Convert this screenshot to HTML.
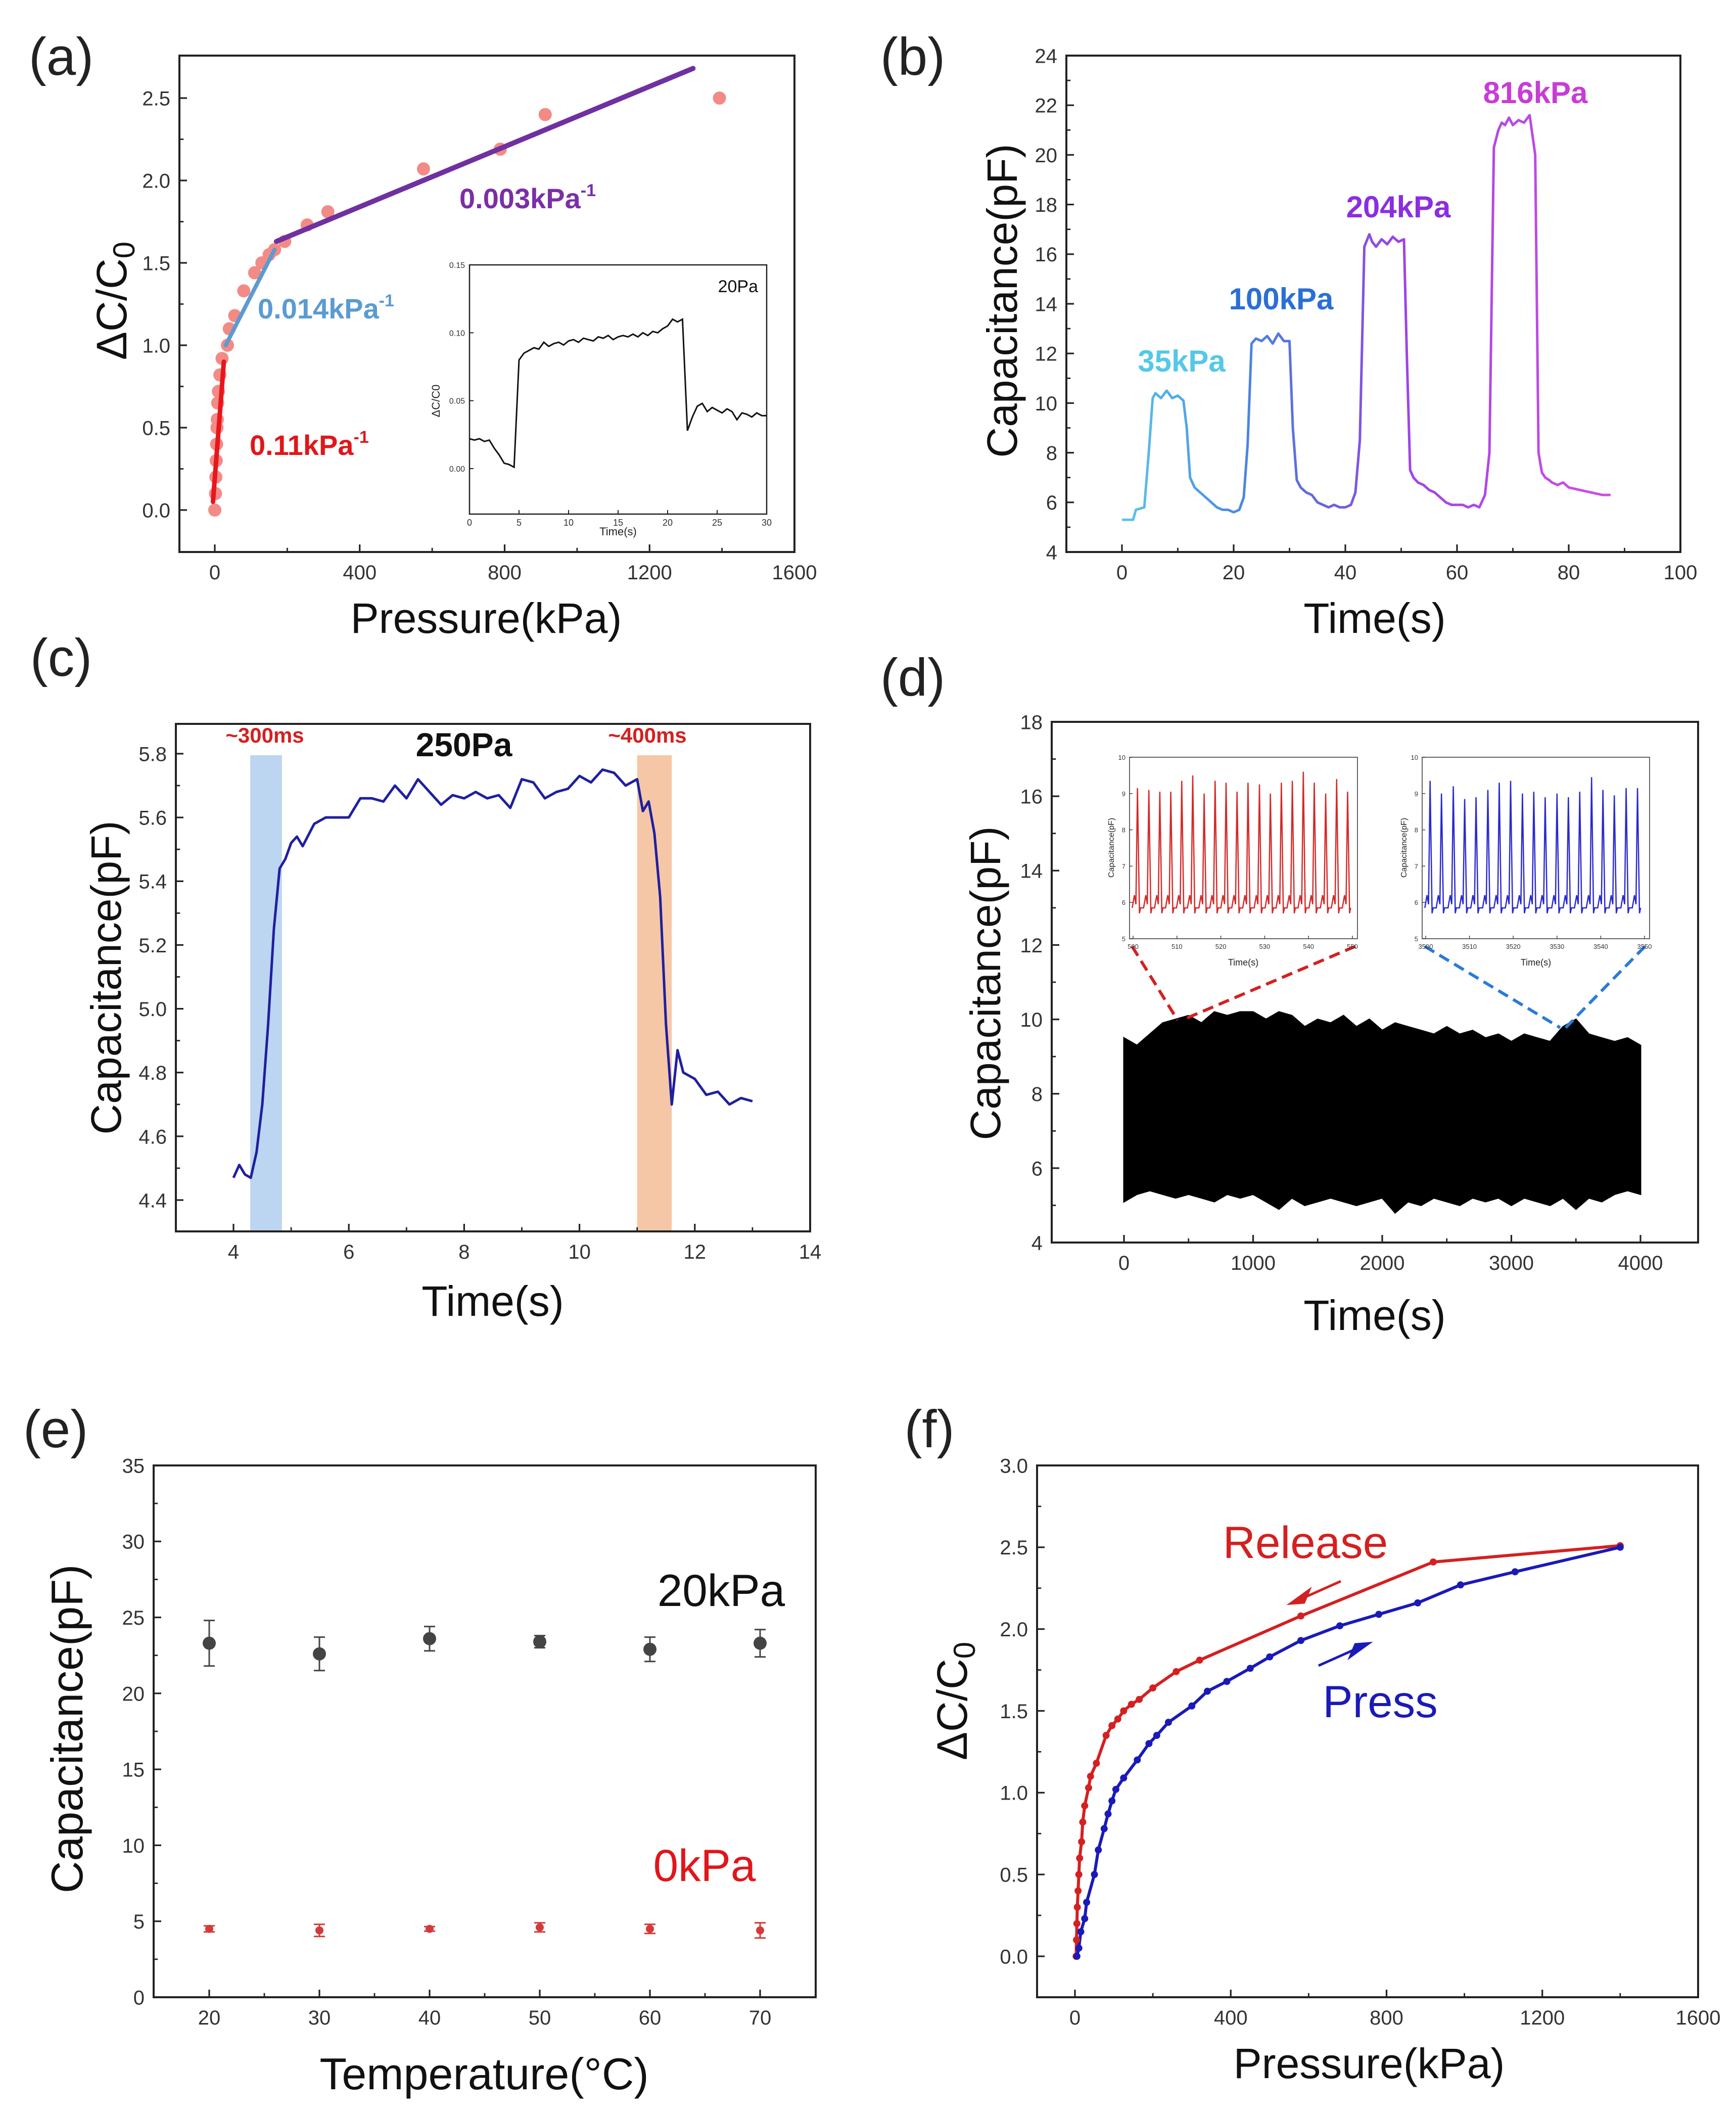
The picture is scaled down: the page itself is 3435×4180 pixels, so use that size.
<!DOCTYPE html>
<html><head><meta charset="utf-8">
<style>
html,body{margin:0;padding:0;background:#fff;}
svg{display:block;font-family:"Liberation Sans",Arial,sans-serif;}
.pl{font-size:105px;fill:#222;text-anchor:middle;}
.at{font-size:84px;fill:#111;text-anchor:middle;}
.an{font-weight:bold;text-anchor:middle;}
.as{font-weight:bold;text-anchor:start;}
</style></head>
<body>
<svg id="fig" xmlns="http://www.w3.org/2000/svg" width="3435" height="4180" viewBox="0 0 3435 4180">
<rect width="3435" height="4180" fill="#fff"/>
<defs>
<linearGradient id="bgrad" gradientUnits="userSpaceOnUse" x1="2220" y1="0" x2="3200" y2="0">
<stop offset="0" stop-color="#5cc6ea"/><stop offset="0.25" stop-color="#4a86e0"/><stop offset="0.42" stop-color="#6a62dc"/><stop offset="0.55" stop-color="#9a44e8"/><stop offset="1" stop-color="#d24ee2"/>
</linearGradient>
</defs>
<g id="layer"></g>
<text class="pl" x="121" y="148">(a)</text>
<text class="pl" x="1806" y="148">(b)</text>
<text class="pl" x="121" y="1337">(c)</text>
<text class="pl" x="1806" y="1376">(d)</text>
<text class="pl" x="110" y="2863">(e)</text>
<text class="pl" x="1839" y="2863">(f)</text>
<text class="at" x="962" y="1252">Pressure(kPa)</text>
<text class="at" x="220" y="625" transform="rotate(-90 220 595)">ΔC/C<tspan font-size="60" dy="16">0</tspan></text>
<text class="at" x="2720" y="1252">Time(s)</text>
<text class="at" x="1982" y="625" transform="rotate(-90 1982 595)">Capacitance(pF)</text>
<text class="at" x="975" y="2603">Time(s)</text>
<text class="at" x="209" y="1964" transform="rotate(-90 209 1934)">Capacitance(pF)</text>
<text class="at" x="2720" y="2631">Time(s)</text>
<text class="at" x="1949" y="1975" transform="rotate(-90 1949 1945)">Capacitance(pF)</text>
<text class="at" x="958" y="4133" style="font-size:88px">Temperature(°C)</text>
<text class="at" x="132" y="3451" style="font-size:88px" transform="rotate(-90 132 3420)">Capacitance(pF)</text>
<text class="at" x="2709" y="4111">Pressure(kPa)</text>
<text class="at" x="1883" y="3395" transform="rotate(-90 1883 3365)">ΔC/C<tspan font-size="60" dy="16">0</tspan></text>
<text class="as" x="909" y="412" font-size="56" fill="#7b2fa6">0.003kPa<tspan font-size="34" dy="-24">-1</tspan></text>
<text class="as" x="510" y="630" font-size="56" fill="#5b9bd0">0.014kPa<tspan font-size="34" dy="-24">-1</tspan></text>
<text class="as" x="494" y="900" font-size="56" fill="#e0161b">0.11kPa<tspan font-size="34" dy="-24">-1</tspan></text>
<text x="1500" y="578" font-size="34" fill="#111" text-anchor="end">20Pa</text>
<text class="an" x="2338" y="735" font-size="60" fill="#55c8e6">35kPa</text>
<text class="an" x="2535" y="612" font-size="60" fill="#2a6fd6">100kPa</text>
<text class="an" x="2767" y="430" font-size="60" fill="#8a2ee0">204kPa</text>
<text class="an" x="3038" y="204" font-size="60" fill="#c83cd6">816kPa</text>
<text class="an" x="524" y="1469" font-size="42" fill="#d42020">~300ms</text>
<text class="an" x="918" y="1496" font-size="66" fill="#111">250Pa</text>
<text class="an" x="1281" y="1469" font-size="42" fill="#d42020">~400ms</text>
<text x="1427" y="3177" font-size="89" fill="#111" text-anchor="middle">20kPa</text>
<text x="1394" y="3721" font-size="89" fill="#e0161b" text-anchor="middle">0kPa</text>
<text x="2583" y="3082" font-size="89" fill="#d42020" text-anchor="middle">Release</text>
<text x="2731" y="3397" font-size="89" fill="#1a1ab8" text-anchor="middle">Press</text>
<text x="1223" y="1059" font-size="22" fill="#222" text-anchor="middle">Time(s)</text>
<text x="863" y="800" font-size="22" fill="#222" text-anchor="middle" transform="rotate(-90 863 793)">ΔC/C0</text>
<text x="2460" y="1910" font-size="18" fill="#222" text-anchor="middle">Time(s)</text>
<text x="3039" y="1910" font-size="18" fill="#222" text-anchor="middle">Time(s)</text>
<text x="2198" y="1683" font-size="16" fill="#222" text-anchor="middle" transform="rotate(-90 2198 1677)">Capacitance(pF)</text>
<text x="2777" y="1683" font-size="16" fill="#222" text-anchor="middle" transform="rotate(-90 2777 1677)">Capacitance(pF)</text>
</svg>
<script>
const aPress = [0,2,3,4,5,6,7,8,10,14,20,35,40,55,80,110,130,150,165,193,255,312,576,788,912,1393];
const aDC = [0,0.1,0.2,0.3,0.4,0.5,0.55,0.65,0.72,0.82,0.92,1.0,1.1,1.18,1.33,1.44,1.5,1.55,1.58,1.63,1.73,1.81,2.07,2.19,2.4,2.5];
const aFitLowX = [-5,25];   const aFitLowY = [0.05,0.9];
const aFitMidX = [30,165];  const aFitMidY = [1.0,1.58];
const aFitHighX = [170,1320]; const aFitHighY = [1.63,2.68];
const aXTicks = [0,400,800,1200,1600];
const aYTicks = [0.0,0.5,1.0,1.5,2.0,2.5];
const aYLabels = ['0.0','0.5','1.0','1.5','2.0','2.5'];
const insetV = [0.022,0.021,0.022,0.020,0.021,0.015,0.010,0.004,0.003,0.001,0.080,0.085,0.087,0.089,0.088,0.093,0.090,0.092,0.093,0.091,0.094,0.095,0.093,0.096,0.095,0.094,0.097,0.096,0.098,0.095,0.097,0.098,0.097,0.099,0.097,0.100,0.098,0.101,0.100,0.103,0.105,0.110,0.108,0.110,0.028,0.038,0.046,0.048,0.042,0.045,0.043,0.041,0.044,0.042,0.036,0.041,0.040,0.038,0.041,0.039,0.039];
const insetXTicks = [0,5,10,15,20,25,30];
const insetYTicks = [0.00,0.05,0.10,0.15];
const insetYLabels = ['0.00','0.05','0.10','0.15'];

const bT = [0,2,2.5,4,4.8,5.5,6,7,8,9,10,11,11.6,12.2,13,14,15,16,17,18,19,20,21,21.8,22.5,23.2,24,25,26,27,28,29,30,30.6,31.3,32,33,34,35,36,37,38,39,40,41,41.8,42.6,43.4,44.3,44.8,45.5,46.5,47.5,48.5,49.5,50.5,51,51.6,52.2,53,54,55,56,57,58,59,60,61,62,63,64,65,65.8,66.6,67.4,68,68.6,69.3,70,71,72,73,74,74.6,75.2,75.8,76.5,77,78,79,80,82,84,86,87.5];
const bV = [5.3,5.3,5.7,5.8,8,10.2,10.4,10.2,10.5,10.2,10.3,10.1,9,7,6.6,6.4,6.2,6,5.8,5.7,5.7,5.6,5.7,6.2,8.3,12.4,12.6,12.5,12.7,12.4,12.8,12.5,12.5,9,6.9,6.6,6.4,6.3,6,5.9,5.8,5.9,5.8,5.8,5.9,6.4,8.5,16.3,16.8,16.5,16.3,16.6,16.4,16.7,16.5,16.6,12,7.3,7,6.8,6.7,6.5,6.4,6.2,6,5.9,5.9,5.9,5.8,5.9,5.8,6.3,8,20.3,21,21.3,21.2,21.5,21.2,21.4,21.3,21.6,20,8,7.2,7,6.9,6.8,6.7,6.8,6.6,6.5,6.4,6.3,6.3];
const bXTicks = [0,20,40,60,80,100];
const bYTicks = [4,6,8,10,12,14,16,18,20,22,24];

const cT = [4.0,4.1,4.2,4.3,4.4,4.5,4.6,4.7,4.8,4.9,5.0,5.1,5.2,5.4,5.6,5.8,6.0,6.2,6.4,6.6,6.8,7.0,7.2,7.4,7.6,7.8,8.0,8.2,8.4,8.6,8.8,9.0,9.2,9.4,9.6,9.8,10.0,10.2,10.4,10.6,10.8,11.0,11.1,11.2,11.3,11.4,11.5,11.6,11.7,11.8,12.0,12.2,12.4,12.6,12.8,13.0];
const cV = [4.47,4.51,4.48,4.47,4.55,4.70,4.95,5.25,5.44,5.47,5.52,5.54,5.51,5.58,5.60,5.60,5.60,5.66,5.66,5.65,5.70,5.66,5.72,5.68,5.64,5.67,5.66,5.68,5.66,5.67,5.63,5.72,5.71,5.66,5.68,5.69,5.73,5.71,5.75,5.74,5.70,5.72,5.62,5.65,5.55,5.35,4.95,4.70,4.87,4.80,4.78,4.73,4.74,4.70,4.72,4.71];
const cRiseBand = [4.29,4.84];
const cFallBand = [11.0,11.6];
const cXTicks = [4,6,8,10,12,14];
const cYTicks = [4.4,4.6,4.8,5.0,5.2,5.4,5.6,5.8];
const cYLabels = ['4.4','4.6','4.8','5.0','5.2','5.4','5.6','5.8'];

const dEnvT = [0,100,200,300,400,500,600,700,800,900,1000,1100,1200,1300,1400,1500,1600,1700,1800,1900,2000,2100,2200,2300,2400,2500,2600,2700,2800,2900,3000,3100,3200,3300,3400,3500,3600,3700,3800,3900,4000];
const dUp = [9.5,9.3,9.6,9.9,10.0,10.1,9.9,10.2,10.1,10.2,10.2,10.0,10.2,10.1,9.8,10.0,9.9,10.1,9.8,10.0,9.7,9.9,9.8,9.7,9.6,9.8,9.6,9.7,9.5,9.6,9.4,9.6,9.5,9.4,9.8,10.0,9.6,9.5,9.4,9.5,9.3];
const dLo = [5.1,5.3,5.4,5.3,5.2,5.3,5.2,5.1,5.3,5.2,5.3,5.1,4.9,5.2,5.0,5.1,5.2,5.1,5.0,5.1,5.2,4.8,5.1,5.0,5.2,5.1,5.0,5.2,5.1,5.2,5.0,5.2,5.1,5.0,5.2,4.9,5.2,5.1,5.3,5.4,5.3];
const dXTicks = [0,1000,2000,3000,4000];
const dYTicks = [4,6,8,10,12,14,16,18];
const d1T = [501,503.6,506.1,508.6,511.1,513.6,516.2,518.7,521.2,523.7,526.2,528.8,531.3,533.8,536.3,538.8,541.3,543.9,546.4,548.9];
const d1Pk = [9.15,9.1,9.05,9.05,9.35,9.5,9.0,9.35,9.3,9.05,9.3,9.25,9.0,9.3,9.35,9.6,9.3,9.0,9.4,9.05];
const d2T = [3501,3503.6,3506.3,3508.9,3511.5,3514.2,3516.8,3519.4,3522.1,3524.7,3527.3,3530,3532.6,3535.2,3537.9,3540.5,3543.1,3545.8,3548.4];
const d2Pk = [9.35,9.0,9.2,8.85,8.9,9.1,9.3,9.35,9.0,9.05,8.9,9.0,8.9,9.05,9.45,9.1,8.95,9.15,9.15];
const d1XTicks = [500,510,520,530,540,550];
const d2XTicks = [3500,3510,3520,3530,3540,3550];
const dInsetYTicks = [5,6,7,8,9,10];

const eTemp = [20,30,40,50,60,70];
const eHigh = [23.3,22.6,23.6,23.4,22.9,23.3];
const eHighErr = [1.5,1.1,0.8,0.4,0.8,0.9];
const eLow = [4.5,4.4,4.5,4.6,4.5,4.4];
const eLowErr = [0.2,0.4,0.15,0.3,0.3,0.5];
const eXTicks = [20,30,40,50,60,70];
const eYTicks = [0,5,10,15,20,25,30,35];

const fPressP = [5,10,15,25,30,50,60,75,85,95,105,125,160,190,210,240,300,340,390,450,500,580,680,780,880,990,1130,1400];
const fPressV = [0,0.05,0.15,0.23,0.33,0.5,0.65,0.78,0.87,0.95,1.02,1.09,1.2,1.3,1.35,1.43,1.53,1.62,1.68,1.76,1.83,1.93,2.02,2.09,2.16,2.27,2.35,2.5];
const fRelP = [1400,920,580,320,260,200,165,145,125,110,95,80,55,40,35,25,20,17,12,10,8,6,5,4,3];
const fRelV = [2.51,2.41,2.08,1.81,1.74,1.64,1.57,1.54,1.5,1.45,1.41,1.35,1.18,1.1,1.03,0.92,0.82,0.7,0.6,0.5,0.4,0.3,0.2,0.1,0];
const fXTicks = [0,400,800,1200,1600];
const fYTicks = [0,0.5,1.0,1.5,2.0,2.5,3.0];
const fYLabels = ['0.0','0.5','1.0','1.5','2.0','2.5','3.0'];

const NS = 'http://www.w3.org/2000/svg';
const layer = document.getElementById('layer');
function mk(tag, attrs, parent) {
  const e = document.createElementNS(NS, tag);
  for (const k in attrs) e.setAttribute(k, attrs[k]);
  (parent || layer).appendChild(e);
  return e;
}
function lin(d0, d1, r0, r1) { return v => r0 + (v - d0) / (d1 - d0) * (r1 - r0); }
function pts(xs, ys, X, Y) { return xs.map((x, i) => X(x).toFixed(1) + ',' + Y(ys[i]).toFixed(1)).join(' '); }

function axes(name, fr, X, Y, xt, yt, xl, yl, o) {
  o = o || {};
  const fs = o.fs || 40, tl = o.tl || 15, sw = o.sw || 4;
  const g = mk('g', {});
  
  
  const r = mk('rect', {x: fr[0], y: fr[1], width: fr[2] - fr[0], height: fr[3] - fr[1], fill: 'none', stroke: '#222', 'stroke-width': sw}, g);
  
  
  xt.forEach((v, i) => {
    const x = X(v);
    mk('line', {x1: x, x2: x, y1: fr[3], y2: fr[3] - tl, stroke: '#222', 'stroke-width': sw * 0.8}, g);
    if (i < xt.length - 1) { const xm = X((v + xt[i + 1]) / 2); mk('line', {x1: xm, x2: xm, y1: fr[3], y2: fr[3] - tl * 0.55, stroke: '#222', 'stroke-width': sw * 0.7}, g); }
    const t = mk('text', {x: x, y: fr[3] + fs * 1.35 + (o.xoff || 0), 'font-size': fs, fill: '#333', 'text-anchor': 'middle'}, g);
    
    
    t.textContent = xl ? xl[i] : String(v);
  });
  yt.forEach((v, i) => {
    const y = Y(v);
    mk('line', {x1: fr[0], x2: fr[0] + tl, y1: y, y2: y, stroke: '#222', 'stroke-width': sw * 0.8}, g);
    if (i < yt.length - 1) { const ym = Y((v + yt[i + 1]) / 2); mk('line', {x1: fr[0], x2: fr[0] + tl * 0.55, y1: ym, y2: ym, stroke: '#222', 'stroke-width': sw * 0.7}, g); }
    const t = mk('text', {x: fr[0] - fs * 0.45, y: y + fs * 0.36, 'font-size': fs, fill: '#333', 'text-anchor': 'end'}, g);
    
    
    t.textContent = yl ? yl[i] : String(v);
  });
  return g;
}

{
  const X = lin(0, 1600, 425, 1572), Y = lin(0, 2.5, 1009, 194);
  axes('a', [355, 110, 1572, 1092], X, Y, aXTicks, aYTicks, null, aYLabels);
  aPress.forEach((p, i) => {
    const c = mk('circle', {cx: X(p), cy: Y(aDC[i]), r: 13, fill: '#f28b86'});
    
    
  });
  const fits = [[aFitLowX, aFitLowY, '#e8161b', 9, 'a-fit-low'], [aFitMidX, aFitMidY, '#5b9bd0', 8, 'a-fit-mid'], [aFitHighX, aFitHighY, '#7030a0', 10, 'a-fit-high']];
  fits.forEach(f => {
    const l = mk('line', {x1: X(f[0][0]), y1: Y(f[1][0]), x2: X(f[0][1]), y2: Y(f[1][1]), stroke: f[2], 'stroke-width': f[3], 'stroke-linecap': 'round'});
    
    
  });
  const IX = lin(0, 30, 929, 1517), IY = lin(0, 0.15, 927, 524);
  const ir = mk('rect', {x: 929, y: 524, width: 588, height: 493, fill: '#fff', stroke: '#222', 'stroke-width': 2.5});
  
  
  insetXTicks.forEach(v => {
    mk('line', {x1: IX(v), x2: IX(v), y1: 1017, y2: 1009, stroke: '#222', 'stroke-width': 2});
    const t = mk('text', {x: IX(v), y: 1040, 'font-size': 18, fill: '#333', 'text-anchor': 'middle'});
    
    
    t.textContent = v;
  });
  insetYTicks.forEach((v, i) => {
    mk('line', {x1: 929, x2: 937, y1: IY(v), y2: IY(v), stroke: '#222', 'stroke-width': 2});
    const t = mk('text', {x: 920, y: IY(v) + 6, 'font-size': 16, fill: '#333', 'text-anchor': 'end'});
    
    
    t.textContent = insetYLabels[i];
  });
  const it = insetV.map((v, i) => i * 0.5);
  const pl = mk('polyline', {points: pts(it, insetV, IX, IY), fill: 'none', stroke: '#111', 'stroke-width': 3});
  
  
}

{
  const X = lin(0, 100, 2220, 3325), Y = lin(4, 24, 1092, 110);
  axes('b', [2110, 110, 3325, 1092], X, Y, bXTicks, bYTicks);
  const pl = mk('polyline', {points: pts(bT, bV, X, Y), fill: 'none', stroke: 'url(#bgrad)', 'stroke-width': 5, 'stroke-linejoin': 'round'});
  
  
}

{
  const X = lin(4, 14, 462, 1603), Y = lin(4.4, 5.8, 2374, 1491);
  const b1 = mk('rect', {x: X(cRiseBand[0]), y: 1494, width: X(cRiseBand[1]) - X(cRiseBand[0]), height: 2436 - 1494, fill: '#bcd5f0'});
  
  
  const b2 = mk('rect', {x: X(cFallBand[0]), y: 1494, width: X(cFallBand[1]) - X(cFallBand[0]), height: 2436 - 1494, fill: '#f6c7a6'});
  
  
  axes('c', [348, 1432, 1603, 2436], X, Y, cXTicks, cYTicks, null, cYLabels);
  const pl = mk('polyline', {points: pts(cT, cV, X, Y), fill: 'none', stroke: '#1f1fa0', 'stroke-width': 5, 'stroke-linejoin': 'round'});
  
  
}

{
  const X = lin(0, 4000, 2224, 3246), Y = lin(4, 18, 2458, 1428);
  axes('d', [2081, 1428, 3360, 2458], X, Y, dXTicks, dYTicks);
  const up = dEnvT.map((t, i) => X(t).toFixed(1) + ',' + Y(dUp[i]).toFixed(1));
  const lo = dEnvT.map((t, i) => X(t).toFixed(1) + ',' + Y(dLo[i]).toFixed(1)).reverse();
  const band = mk('polygon', {points: up.concat(lo).join(' '), fill: '#000', stroke: '#000', 'stroke-width': 3});
  
  
  const dl = [[2240, 1872, 2330, 2018, '#d42020'], [2682, 1872, 2339, 2018, '#d42020'], [2819, 1872, 3087, 2033, '#2a7bd6'], [3255, 1872, 3098, 2033, '#2a7bd6']];
  dl.forEach(l => {
    const e = mk('line', {x1: l[0], y1: l[1], x2: l[2], y2: l[3], stroke: l[4], 'stroke-width': 6, 'stroke-dasharray': '22 12'});
    
    
  });
  function inset(nm, x0, x1, t0, ts, pks, xt, color) {
    const IX = lin(t0, t0 + 50, x0 + 7, x1 - 10), IY = lin(5, 10, 1857, 1498);
    const r = mk('rect', {x: x0, y: 1498, width: x1 - x0, height: 359, fill: '#fff', stroke: '#666', 'stroke-width': 2});
    
    
    xt.forEach(v => {
      mk('line', {x1: IX(v), x2: IX(v), y1: 1857, y2: 1851, stroke: '#444', 'stroke-width': 1.5});
      const t = mk('text', {x: IX(v), y: 1877, 'font-size': 13, fill: '#333', 'text-anchor': 'middle'});
      
      
      t.textContent = v;
    });
    dInsetYTicks.forEach(v => {
      mk('line', {x1: x0, x2: x0 + 6, y1: IY(v), y2: IY(v), stroke: '#444', 'stroke-width': 1.5});
      const t = mk('text', {x: x0 - 8, y: IY(v) + 5, 'font-size': 13, fill: '#333', 'text-anchor': 'end'});
      
      
      t.textContent = v;
    });
    let d = '';
    ts.forEach((t, i) => {
      const seg = [[t - 1.2, 5.85], [t - 0.7, 6.2], [t - 0.35, 5.95], [t, pks[i]], [t + 0.45, 5.7], [t + 0.7, 5.85]];
      seg.forEach((p, j) => { d += (i === 0 && j === 0 ? 'M' : 'L') + IX(p[0]).toFixed(1) + ',' + IY(p[1]).toFixed(1); });
    });
    const p = mk('path', {d: d, fill: 'none', stroke: color, 'stroke-width': 2.5});
    
    
  }
  inset('d-inset-early', 2235, 2686, 500, d1T, d1Pk, d1XTicks, '#d42a2a');
  inset('d-inset-late', 2814, 3264, 3500, d2T, d2Pk, d2XTicks, '#2a2ad0');
}

{
  const X = lin(20, 70, 414, 1504), Y = lin(0, 35, 3951, 2899);
  axes('e', [304, 2899, 1614, 3951], X, Y, eXTicks, eYTicks);
  function series(vals, errs, col, r, nm) {
    eTemp.forEach((t, i) => {
      const x = X(t), y0 = Y(vals[i] - errs[i]), y1 = Y(vals[i] + errs[i]);
      const g = mk('g', {});
      
      
      mk('line', {x1: x, x2: x, y1: y0, y2: y1, stroke: col, 'stroke-width': 3}, g);
      mk('line', {x1: x - 11, x2: x + 11, y1: y0, y2: y0, stroke: col, 'stroke-width': 3}, g);
      mk('line', {x1: x - 11, x2: x + 11, y1: y1, y2: y1, stroke: col, 'stroke-width': 3}, g);
      mk('circle', {cx: x, cy: Y(vals[i]), r: r, fill: col}, g);
    });
  }
  series(eHigh, eHighErr, '#444', 13, 'e-20kpa-point');
  series(eLow, eLowErr, '#d43a3a', 8, 'e-0kpa-point');
}

{
  const X = lin(0, 1600, 2127, 3360), Y = lin(0, 3, 3870, 2899);
  axes('f', [2052, 2899, 3360, 3951], X, Y, fXTicks, fYTicks, null, fYLabels);
  const rel = mk('polyline', {points: pts(fRelP, fRelV, X, Y), fill: 'none', stroke: '#d42020', 'stroke-width': 6, 'stroke-linejoin': 'round'});
  
  
  const pr = mk('polyline', {points: pts(fPressP, fPressV, X, Y), fill: 'none', stroke: '#1a1ab8', 'stroke-width': 6, 'stroke-linejoin': 'round'});
  
  
  fRelP.forEach((p, i) => { const c = mk('circle', {cx: X(p), cy: Y(fRelV[i]), r: 7, fill: '#d42020'});   });
  fPressP.forEach((p, i) => { const c = mk('circle', {cx: X(p), cy: Y(fPressV[i]), r: 7, fill: '#1a1ab8'});   });
  const a1 = mk('path', {d: 'M2653,3128 L2570,3165 M2554,3172 L2590,3146 L2580,3170 Z', stroke: '#d42020', 'stroke-width': 5, fill: '#d42020'});
  
  
  const a2 = mk('path', {d: 'M2609,3295 L2692,3258 M2708,3251 L2672,3277 L2682,3253 Z', stroke: '#1a1ab8', 'stroke-width': 5, fill: '#1a1ab8'});
  
  
}
</script>
</body></html>
